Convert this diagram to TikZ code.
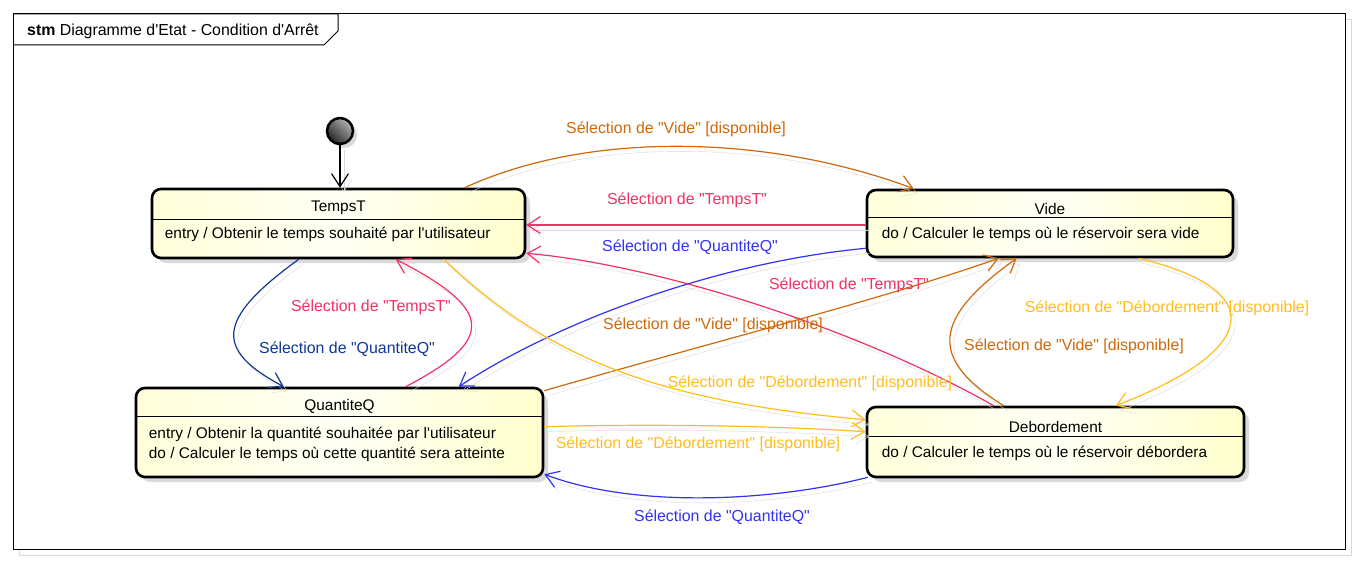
\documentclass[tikz,border=0pt]{standalone}
\usepackage{fontspec}
\setmainfont{Liberation Sans}[Ligatures=TeXOff]
\usetikzlibrary{arrows.meta,calc,shadows}
\definecolor{cOrange}{RGB}{207,106,10}
\definecolor{cPink}{RGB}{240,50,100}
\definecolor{cBlue}{RGB}{50,50,245}
\definecolor{cNavy}{RGB}{15,55,150}
\definecolor{cGold}{RGB}{255,190,30}
\definecolor{cShadow}{RGB}{218,218,218}
\definecolor{stL}{RGB}{255,255,218}
\definecolor{stM}{RGB}{255,255,245}
\definecolor{stR}{RGB}{255,255,205}
\tikzset{
  lbl/.style={font=\fontsize{15.9}{18}\selectfont, inner sep=0pt},
  stxt/.style={font=\fontsize{15.4}{18}\selectfont, inner sep=0pt},
  statebox/.style={draw=black, line width=2.6pt, rounded corners=9pt, inner sep=0pt,
    left color=stL, right color=stR, middle color=stM,
    drop shadow={shadow xshift=5pt, shadow yshift=-5pt, fill=cShadow, opacity=1}},
  trans/.style={line width=1.2pt, -{Straight Barb[length=13pt,width=17pt]},
    preaction={draw=cShadow, transform canvas={xshift=4pt,yshift=-5pt}}},
  divider/.style={line width=1pt},
}
\begin{document}
\begin{tikzpicture}[x=1pt,y=-1pt]
\useasboundingbox (0,0) rectangle (1357,564);
% frame
\draw[cShadow, line width=1pt] (19,20) rectangle (1351,555);
\draw[fill=white, line width=1pt] (13,14) rectangle (1345,549);
\draw[line width=1pt] (13,14) -- (338,14) -- (338,31) -- (324,45) -- (13,45);
\node[lbl, anchor=west] (title) at (27,31) {\textbf{stm} Diagramme d'Etat - Condition d'Arrêt};

% initial state
\node[circle, minimum size=26pt, inner sep=0pt, draw=black, line width=2.5pt,
  top color=black!30, bottom color=black!85, shading angle=-45,
  drop shadow={shadow xshift=4pt, shadow yshift=-4pt, fill=cShadow, opacity=1}] (init) at (340,131) {};

% states
\node[statebox, minimum width=373pt, minimum height=69pt] (tempsT) at (338.5,223.5) {};
\node[statebox, minimum width=366pt, minimum height=67pt] (vide) at (1050,223.5) {};
\node[statebox, minimum width=407pt, minimum height=89pt] (quant) at (339.5,432.5) {};
\node[statebox, minimum width=377pt, minimum height=70pt] (debord) at (1055.5,442) {};

\draw[divider] ($(tempsT.north west)+(0,32)$) -- ($(tempsT.north east)+(0,32)$);
\draw[divider] ($(vide.north west)+(0,29)$) -- ($(vide.north east)+(0,29)$);
\draw[divider] ($(quant.north west)+(0,30)$) -- ($(quant.north east)+(0,30)$);
\draw[divider] ($(debord.north west)+(0,31)$) -- ($(debord.north east)+(0,31)$);

\node[stxt] (tTitle) at ($(tempsT.north)+(0,20)$) {TempsT};
\node[stxt, anchor=west] (tBody) at ($(tempsT.north west)+(14,47)$) {entry / Obtenir le temps souhaité par l'utilisateur};
\node[stxt] (vTitle) at ($(vide.north)+(0,20)$) {Vide};
\node[stxt, anchor=west] (vBody) at ($(vide.north west)+(16,46)$) {do / Calculer le temps où le réservoir sera vide};
\node[stxt] (qTitle) at ($(quant.north)+(0,20)$) {QuantiteQ};
\node[stxt, anchor=west, align=left, font=\fontsize{15.4}{20}\selectfont] (qBody) at ($(quant.north west)+(14,58)$) {entry / Obtenir la quantité souhaitée par l'utilisateur\\do / Calculer le temps où cette quantité sera atteinte};
\node[stxt] (dTitle) at ($(debord.north)+(0,21)$) {Debordement};
\node[stxt, anchor=west] (dBody) at ($(debord.north west)+(16,48)$) {do / Calculer le temps où le réservoir débordera};

% transitions
\draw[trans, black] (init) -- (init |- tempsT.north);
\draw[trans, cOrange] ($(tempsT.north west)+(314,0)$) .. controls (590,130) and (770,135) .. ($(vide.north west)+(48,0)$);
\draw[trans, cPink] ($(vide.west)+(0,1.5)$) -- ($(vide.west -| tempsT.east)+(0,1.5)$);
\draw[trans, cBlue] ($(vide.south west)+(0,-10)$) .. controls (720,262) and (560,320) .. ($(quant.north west)+(324,0)$);
\draw[trans, cPink] ($(debord.north west)+(128,0)$) .. controls (860,330) and (660,265) .. ($(tempsT.south east)+(0,-6)$);
\draw[trans, cOrange] ($(debord.north west)+(138,0)$) .. controls (930,360) and (930,320) .. ($(vide.south west)+(151,0)$);
\draw[trans, cOrange] ($(quant.north east)+(0,4)$) .. controls (720,340) and (880,300) .. ($(vide.south west)+(133,0)$);
\draw[trans, cNavy] ($(tempsT.south west)+(148,0)$) .. controls (215,320) and (215,350) .. ($(quant.north west)+(149,0)$);
\draw[trans, cPink] ($(quant.north west)+(271,0)$) .. controls (495,340) and (495,310) .. ($(tempsT.south west)+(245,0)$);
\draw[trans, cGold] ($(tempsT.south west)+(293,0)$) .. controls (540,350) and (640,400) .. ($(debord.north west)+(0,14)$);
\draw[trans, cGold] ($(quant.north east)+(0,40)$) .. controls (640,424) and (760,425) .. ($(debord.north west)+(0,26)$);
\draw[trans, cBlue] ($(debord.south west)+(2,-1)$) .. controls (780,500) and (640,510) .. ($(quant.south east)+(0,-4)$);
\draw[trans, cGold] ($(vide.south west)+(273,0)$) .. controls (1270,290) and (1260,350) .. ($(debord.north west)+(250,0)$);

% labels
\node[lbl, text=cOrange] (l1) at (676,129) {Sélection de "Vide" [disponible]};
\node[lbl, text=cPink] (l2) at (687,200) {Sélection de "TempsT"};
\node[lbl, text=cBlue] (l3) at (690,247) {Sélection de "QuantiteQ"};
\node[lbl, text=cPink] (l4) at (849,285) {Sélection de "TempsT"};
\node[lbl, text=cOrange] (l5) at (713,325) {Sélection de "Vide" [disponible]};
\node[lbl, text=cGold] (l6) at (810,383) {Sélection de "Débordement" [disponible]};
\node[lbl, text=cGold] (l7) at (698,444) {Sélection de "Débordement" [disponible]};
\node[lbl, text=cBlue] (l8) at (722,517) {Sélection de "QuantiteQ"};
\node[lbl, text=cPink] (l9) at (371,307) {Sélection de "TempsT"};
\node[lbl, text=cNavy] (l10) at (347,349) {Sélection de "QuantiteQ"};
\node[lbl, text=cOrange] (l11) at (1074,346) {Sélection de "Vide" [disponible]};
\node[lbl, text=cGold] (l12) at (1167,308) {Sélection de "Débordement" [disponible]};
\end{tikzpicture}
\end{document}
